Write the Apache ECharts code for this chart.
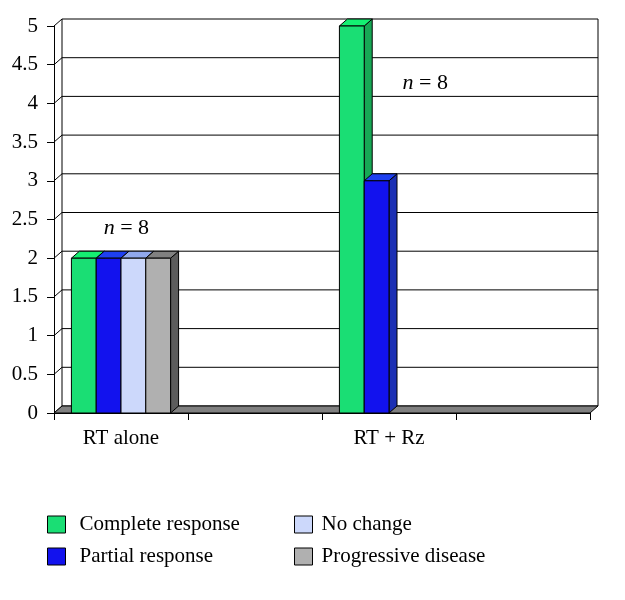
<!DOCTYPE html>
<html>
<head>
<meta charset="utf-8">
<script src="https://cdn.jsdelivr.net/npm/echarts@6/dist/echarts.min.js"></script>
<style>html,body{margin:0;padding:0;background:#fff;}#c{width:625px;height:600px;}</style>
</head>
<body>
<div id="c"></div>
<script>
// ---- data ----
const categories = ['RT alone', '', 'RT + Rz', ''];
const seriesNames = ['Complete response', 'Partial response', 'No change', 'Progressive disease'];
const completeResponse = [2, 0, 5, 0];
const partialResponse = [2, 0, 3, 0];
const noChange = [2, 0, 0, 0];
const progressiveDisease = [2, 0, 0, 0];
const yTicks = [0, 0.5, 1, 1.5, 2, 2.5, 3, 3.5, 4, 4.5, 5];
const annotationTexts = ['8', '8'];
const annotationCategory = [0, 2];
const annotationValue = [2.39, 4.26];

// ---- styles ----
const FONT = '"Liberation Serif", "DejaVu Serif", serif';
const DX = 8, DY = 7;
const BAR_RATIO = 0.185;
const faceColors = [
  {front: '#1ade74', top: '#14f072', side: '#17a855'},
  {front: '#1212ee', top: '#1e40f0', side: '#1c30b4'},
  {front: '#ccd8fb', top: '#90a8ec', side: '#7f90c0'},
  {front: '#b0b0b0', top: '#808080', side: '#5c5c5c'}
];
const allValues = [completeResponse, partialResponse, noChange, progressiveDisease];

function decorRender(params, api) {
  const cs = params.coordSys;
  const L = cs.x, R = cs.x + cs.width, B = cs.y + cs.height;
  const ch = [];
  const yTop = api.coord([0, yTicks[yTicks.length - 1]])[1];
  yTicks.forEach(v => {
    const y = api.coord([0, v])[1];
    ch.push({type: 'line', shape: {x1: L + DX, y1: y - DY, x2: R + DX, y2: y - DY}, style: {stroke: '#000', lineWidth: 1}});
    ch.push({type: 'line', shape: {x1: L, y1: y, x2: L + DX, y2: y - DY}, style: {stroke: '#000', lineWidth: 1}});
  });
  ch.push({type: 'line', shape: {x1: L + DX, y1: yTop - DY, x2: L + DX, y2: B - DY}, style: {stroke: '#000', lineWidth: 1}});
  ch.push({type: 'line', shape: {x1: R + DX, y1: yTop - DY, x2: R + DX, y2: B - DY}, style: {stroke: '#000', lineWidth: 1}});
  ch.push({type: 'polygon', shape: {points: [[L, B], [R, B], [R + DX, B - DY], [L + DX, B - DY]]},
    style: {fill: '#808080', stroke: '#000', lineWidth: 1}});
  return {type: 'group', children: ch};
}

function makeBarRender(k) {
  return function (params, api) {
    const v = api.value(1);
    if (!v) return null;
    const cs = params.coordSys;
    const B = cs.y + cs.height;
    const c = api.coord([api.value(0), v]);
    const w = api.size([1, 0])[0];
    const bw = w * BAR_RATIO;
    const x = c[0] - 2 * bw + k * bw;
    const top = c[1];
    const col = faceColors[k];
    return {
      type: 'group',
      children: [
        {type: 'polygon', shape: {points: [[x + bw, top], [x + bw + DX, top - DY], [x + bw + DX, B - DY], [x + bw, B]]},
          style: {fill: col.side, stroke: '#000', lineWidth: 1}},
        {type: 'polygon', shape: {points: [[x, top], [x + bw, top], [x + bw + DX, top - DY], [x + DX, top - DY]]},
          style: {fill: col.top, stroke: '#000', lineWidth: 1}},
        {type: 'rect', shape: {x: x, y: top, width: bw, height: B - top},
          style: {fill: col.front, stroke: '#000', lineWidth: 1}}
      ]
    };
  };
}

function annotRender(params, api) {
  const idx = params.dataIndex;
  const c = api.coord([api.value(0), api.value(1)]);
  const w = api.size([1, 0])[0];
  const offs = [0.04, 0.27];
  return {
    type: 'text',
    x: c[0] + offs[idx] * w,
    y: c[1],
    style: {
      text: '{i|n} = ' + annotationTexts[idx],
      rich: {i: {fontStyle: 'italic', fontFamily: FONT, fontSize: 22, fill: '#000'}},
      fontFamily: FONT, fontSize: 22, fill: '#000',
      align: 'center', verticalAlign: 'middle'
    }
  };
}

const series = [
  {type: 'custom', name: 'decor', renderItem: decorRender, data: [[0, 0]], z: 1, silent: true, animation: false}
];
seriesNames.forEach((n, k) => {
  series.push({
    type: 'custom', name: n, renderItem: makeBarRender(k), z: 2 + k, animation: false,
    itemStyle: {color: faceColors[k].front},
    data: allValues[k].map((v, i) => [i, v])
  });
});
series.push({
  type: 'custom', name: 'annot', renderItem: annotRender, z: 10, animation: false,
  data: annotationCategory.map((c, i) => [c, annotationValue[i]])
});

const legendItem = (n, k) => ({name: n, itemStyle: {color: faceColors[k].front, borderColor: '#000', borderWidth: 1}});
const legendCommon = (pad) => ({
  orient: 'vertical', itemWidth: 18, itemHeight: 17, itemGap: 11, icon: 'rect',
  textStyle: {fontFamily: FONT, fontSize: 21, color: '#000', padding: [0, 0, 0, pad]}
});

const chart = echarts.init(document.getElementById('c'), null, {renderer: 'canvas'});
chart.setOption({
  animation: false,
  backgroundColor: '#fff',
  grid: {left: 54, right: 35, top: 26, bottom: 187},
  legend: [
    Object.assign({left: 42, top: 509, data: [legendItem(seriesNames[0], 0), legendItem(seriesNames[1], 1)]}, legendCommon(9)),
    Object.assign({left: 289, top: 509, data: [legendItem(seriesNames[2], 2), legendItem(seriesNames[3], 3)]}, legendCommon(4))
  ],
  xAxis: {
    type: 'category', data: categories, boundaryGap: true,
    axisLine: {lineStyle: {color: '#000', width: 1}},
    axisTick: {show: true, length: 7, lineStyle: {color: '#000'}, alignWithLabel: false, interval: 0},
    axisLabel: {interval: 0, fontFamily: FONT, fontSize: 21, color: '#000', margin: 15},
    splitLine: {show: false}
  },
  yAxis: {
    type: 'value', min: 0, max: 5, interval: 0.5,
    axisLine: {show: true, lineStyle: {color: '#000', width: 1}},
    axisTick: {show: true, length: 7, lineStyle: {color: '#000'}},
    axisLabel: {fontFamily: FONT, fontSize: 21, color: '#000', margin: 16},
    splitLine: {show: false}
  },
  series: series
});
</script>
</body>
</html>
